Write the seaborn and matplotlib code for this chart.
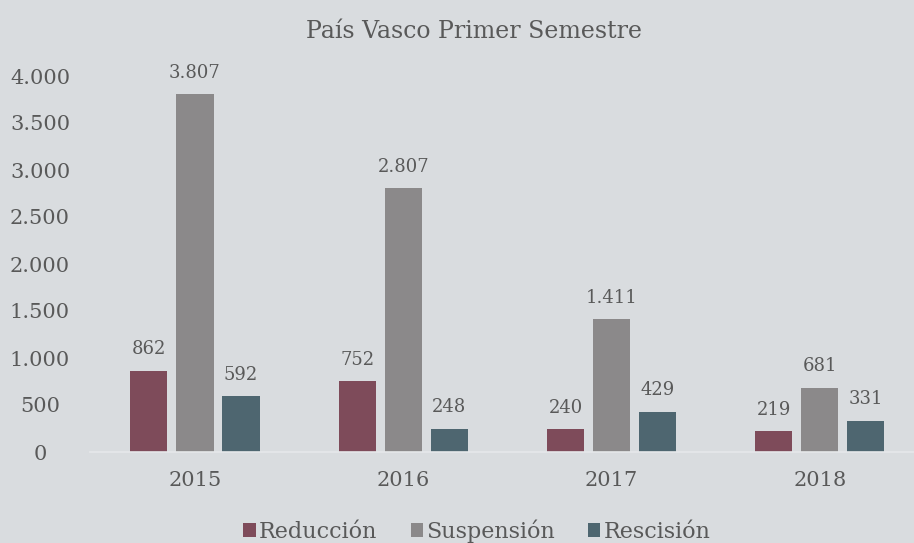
import matplotlib
matplotlib.use("Agg")
import matplotlib.pyplot as plt
import seaborn as sns
import pandas as pd

# Values
years = ["2015", "2016", "2017", "2018"]
reduccion = [862, 752, 240, 219]
suspension = [3807, 2807, 1411, 681]
rescision = [592, 248, 429, 331]
series_names = ["Reducción", "Suspensión", "Rescisión"]
y_ticks = [0, 500, 1000, 1500, 2000, 2500, 3000, 3500, 4000]

colors = ["#7e4b5a", "#8b898a", "#4e6670"]
bg = "#d9dcdf"
text_color = "#595959"

# Build a long table for seaborn
df = pd.DataFrame({
    "year": years * 3,
    "value": reduccion + suspension + rescision,
    "serie": [series_names[0]] * 4 + [series_names[1]] * 4 + [series_names[2]] * 4,
})

sns.set_theme(style="white")
plt.rcParams["font.family"] = ["DejaVu Serif"]

fig = plt.figure(figsize=(9.14, 5.43), dpi=100, facecolor=bg)
ax = fig.add_axes([90 / 914, 91 / 543, 824 / 914, (452 - 76) / 543])
ax.set_facecolor(bg)

sns.barplot(data=df, x="year", y="value", hue="serie", order=years,
            hue_order=series_names, palette=colors, width=0.663, gap=0.195,
            saturation=1, linewidth=0, ax=ax, legend=True)

# Labels on top of every bar, with a dot as thousands separator
for cont in ax.containers:
    ax.bar_label(cont, fmt=lambda v: f"{v:,.0f}".replace(",", "."),
                 padding=9, fontsize=13, color=text_color)

ax.set_xlim(-0.504, 3.452)
ax.set_ylim(0, 4000)
ax.set_yticks(y_ticks)
ax.set_yticklabels([f"{t:,}".replace(",", ".") for t in y_ticks])
for lab in ax.get_yticklabels():
    lab.set_ha("center")
ax.tick_params(axis="y", length=0, pad=36, labelsize=15, labelcolor=text_color)
ax.tick_params(axis="x", length=0, pad=14, labelsize=15, labelcolor=text_color)
ax.set_xlabel("")
ax.set_ylabel("")

for side in ["top", "right", "left"]:
    ax.spines[side].set_visible(False)
ax.spines["bottom"].set_color("#e6e8ea")
ax.spines["bottom"].set_linewidth(1.2)

# Legend at the bottom of the figure
handles, labels = ax.get_legend_handles_labels()
ax.get_legend().remove()
fig.legend(handles, labels, loc="center", bbox_to_anchor=(477 / 914, 1 - 531 / 543),
           ncol=3, frameon=False, fontsize=16, labelcolor=text_color,
           handlelength=0.55, handleheight=0.55, handletextpad=0.15, columnspacing=1.5)

fig.text(474 / 914, 1 - 32 / 543, "País Vasco Primer Semestre", ha="center", va="center",
         fontsize=17, color=text_color)

fig.savefig("out.png", dpi=100, facecolor=bg)
